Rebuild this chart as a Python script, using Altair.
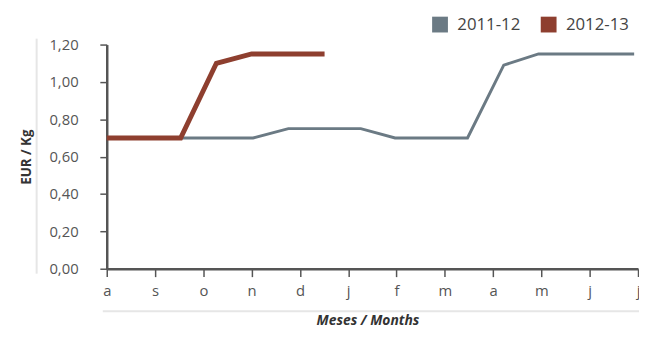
import altair as alt
import pandas as pd

months = ["a", "s", "o", "n", "d", "j", "f", "m", "a", "m", "j", "j"]
series = ["2011-12", "2012-13"]
colors = ["#6b7a84", "#8e3f2f"]
widths = [3, 5]

x_2011 = [0, 3.03, 3.76, 5.26, 5.97, 7.47, 8.22, 8.94, 10.92]
y_2011 = [0.70, 0.70, 0.75, 0.75, 0.70, 0.70, 1.09, 1.15, 1.15]
x_2012 = [0, 1.53, 2.27, 3.0, 4.51]
y_2012 = [0.70, 0.70, 1.10, 1.15, 1.15]

y_ticks = [0, 0.2, 0.4, 0.6, 0.8, 1.0, 1.2]

rows = []
for i, (xv, yv) in enumerate(zip(x_2011, y_2011)):
    rows.append({"serie": series[0], "x": xv, "y": yv, "o": i})
for i, (xv, yv) in enumerate(zip(x_2012, y_2012)):
    rows.append({"serie": series[1], "x": xv, "y": yv, "o": i})
df = pd.DataFrame(rows)

FONT = "Open Sans"
month_arr = "[" + ",".join("'" + m + "'" for m in months) + "]"

x_enc = alt.X("x:Q",
              scale=alt.Scale(domain=[0, len(months) - 1], nice=False, zero=False),
              axis=alt.Axis(values=list(range(len(months))),
                            labelExpr=month_arr + "[datum.value]",
                            title="Meses / Months",
                            titleFont=FONT, titleFontSize=14, titleFontWeight="bold",
                            titleFontStyle="italic", titleColor="#333333",
                            titleX=264, titleY=52, titleBaseline="middle",
                            labelFont=FONT, labelFontSize=15, labelColor="#555555",
                            labelPadding=7, labelFlush=False,
                            tickSize=8, tickColor="#555555", tickWidth=1.5,
                            domainColor="#555555", domainWidth=2.5,
                            grid=False))
y_enc = alt.Y("y:Q",
              scale=alt.Scale(domain=[0, 1.2], nice=False),
              axis=alt.Axis(values=y_ticks,
                            labelExpr="replace(format(datum.value, '.2f'), '.', ',')",
                            title="EUR / Kg",
                            titleFont=FONT, titleFontSize=13.5, titleFontWeight="bold",
                            titleColor="#333333", titlePadding=16,
                            labelFont=FONT, labelFontSize=15, labelColor="#555555",
                            labelPadding=22,
                            tickSize=7, tickColor="#555555", tickWidth=1.5,
                            domainColor="#555555", domainWidth=2.5,
                            grid=False))
c_enc = alt.Color("serie:N",
                  scale=alt.Scale(domain=series, range=colors),
                  legend=alt.Legend(title=None, orient="none", direction="horizontal",
                                    legendX=329, legendY=-29, padding=0,
                                    symbolType="square", symbolSize=64,
                                    symbolStrokeWidth=8, symbolOpacity=1,
                                    labelFont=FONT, labelFontSize=17,
                                    labelColor="#444444", labelOffset=9,
                                    columnPadding=8))

line_layers = []
for s, w in zip(series, widths):
    line_layers.append(
        alt.Chart(df).transform_filter(alt.datum.serie == s)
        .mark_line(strokeWidth=w, strokeCap="butt", strokeJoin="miter")
        .encode(x=x_enc, y=y_enc, color=c_enc, order="o:Q")
    )

blank = alt.Data(values=[{"k": 1}])
vsep = alt.Chart(blank).mark_rule(color="#e6e6e6", strokeWidth=2).encode(
    x=alt.value(-71), y=alt.value(-6), y2=alt.value(232))
hsep = alt.Chart(blank).mark_rule(color="#e6e6e6", strokeWidth=2).encode(
    x=alt.value(-4), x2=alt.value(540), y=alt.value(270))

chart = alt.layer(vsep, hsep, *line_layers).properties(
    width=538, height=227,
    autosize=alt.AutoSizeParams(type="none"),
    padding={"left": 100, "top": 35, "right": 1, "bottom": 59},
).configure_view(stroke=None)

chart.save("out.html", embed_options={"renderer": "svg", "actions": False})
